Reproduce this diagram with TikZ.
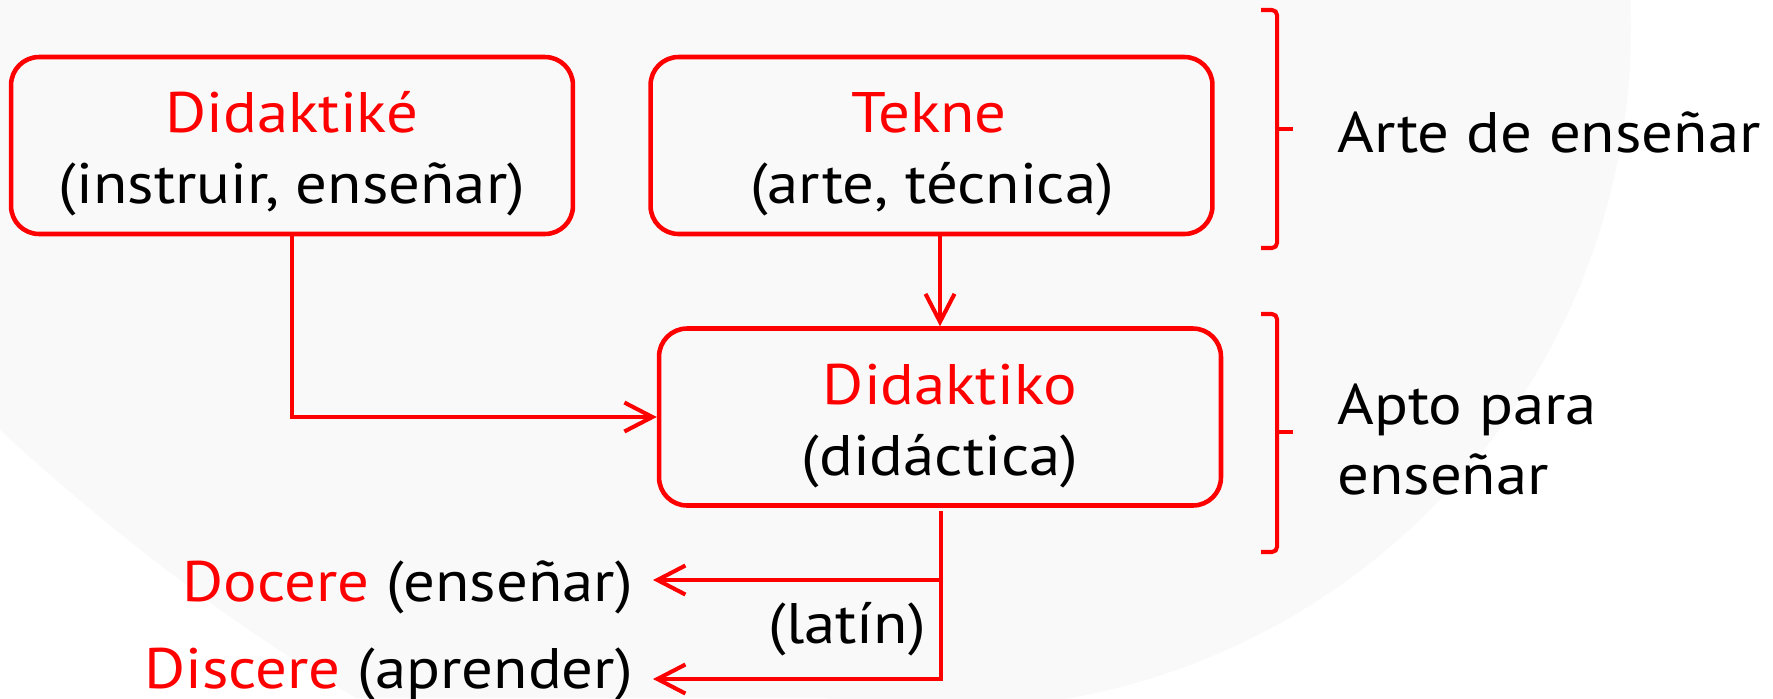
\documentclass[tikz,border=0pt]{standalone}
\usepackage{fontspec}
\setmainfont[FakeStretch=1.1]{PT Sans}
\usetikzlibrary{arrows.meta,calc}
\definecolor{bgray}{RGB}{249,249,249}
\begin{document}
\begin{tikzpicture}[x=0.02cm,y=-0.02cm,
  box/.style={draw=red, line width=2.6pt, rounded corners=0.56cm, minimum width=11.24cm, minimum height=3.54cm, inner sep=0pt},
  lbl/.style={inner sep=0pt, font=\fontsize{32.5}{39}\selectfont},
  conn/.style={draw=red, line width=2.3pt},
  arr/.style={conn, -{Straight Barb[length=5.6mm,width=5.8mm]}},
  brk/.style={draw=red, line width=2.3pt, rounded corners=0.1cm}
]
\useasboundingbox (0,0) rectangle (1773,698);
\begin{scope}
\clip (0,0) rectangle (1773,698);
\fill[white] (0,0) rectangle (1773,698);
\fill[bgray] (0,0) -- (1000,0) -- (1000,698) -- (356,698) .. controls (240,630) and (120,540) .. (0,430) -- cycle;
\fill[bgray] (948,26) circle (683);
\end{scope}

\node[box] (b1) at (292,145.5) {};
\node[box] (b2) at (931.5,145.5) {};
\node[box] (b3) at (940,417) {};

\node[lbl, text=red, anchor=base] (t1a) at (292,132) {Didaktiké};
\node[lbl, anchor=base] (t1b) at (292,203) {(instruir, enseñar)};
\node[lbl, text=red, anchor=base] (t2a) at (929,132) {Tekne};
\node[lbl, anchor=base] (t2b) at (932,203) {(arte, técnica)};
\node[lbl, text=red, anchor=base] (t3a) at (950,404) {Didaktiko};
\node[lbl, anchor=base] (t3b) at (940,475) {(didáctica)};
\node[lbl, anchor=base east] (doc) at (633,601) {\textcolor{red}{Docere} (enseñar)};
\node[lbl, anchor=base east] (dis) at (633,688) {\textcolor{red}{Discere} (aprender)};
\node[lbl, anchor=base] (lat) at (847,643) {(latín)};
\node[lbl, anchor=base west] (arte) at (1337,152) {Arte de enseñar};
\node[lbl, anchor=base west] (apto) at (1337,424) {Apto para};
\node[lbl, anchor=base west] (ens) at (1337,494) {enseñar};

\draw[arr] (b1.south) |- (b3.west);
\draw[arr] (b2.south -| b3.north) -- (b3.north);
\coordinate (k0) at (941,511);
\coordinate (k1) at (941,580);
\coordinate (k2) at (941,679);
\draw[arr, shorten >=0.4cm] (k0) -- (k2) -- (k2 -| dis.east);
\draw[arr, shorten >=0.4cm] (k1) -- (k1 -| doc.east);

\draw[brk] (1261,10) -- (1277,10) -- (1277,248) -- (1261,248);
\draw[brk] (1277,129) -- (1293,129);
\draw[brk] (1261,314) -- (1277,314) -- (1277,552) -- (1261,552);
\draw[brk] (1277,432) -- (1293,432);
\end{tikzpicture}
\end{document}
